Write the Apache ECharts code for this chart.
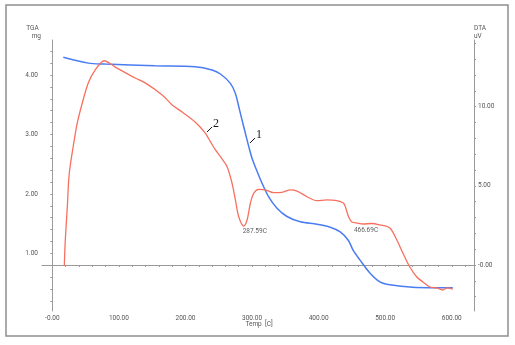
<!DOCTYPE html>
<html>
<head>
<meta charset="utf-8">
<script src="https://cdn.jsdelivr.net/npm/echarts@6/dist/echarts.min.js"></script>
<style>
  html, body { margin: 0; padding: 0; background: #fff; }
  #chart { width: 515px; height: 345px; }
</style>
</head>
<body>
<div id="chart"></div>
<script>
// TGA curve (mass, mg) against temperature (C)
const tgaTemp = [16.5, 54, 79.5, 154.5, 214.5, 240, 252.5, 267.5, 275, 280, 285, 290, 295, 300, 307.5, 315, 325, 337.5, 352.5, 372.5, 397.5, 417.5, 432.5, 444.5, 452, 462, 477, 492, 507, 541.5, 601.5];
const tgaMass = [4.30, 4.20, 4.185, 4.156, 4.14, 4.084, 4.017, 3.86, 3.69, 3.47, 3.24, 3.02, 2.80, 2.60, 2.38, 2.18, 1.95, 1.76, 1.62, 1.53, 1.49, 1.44, 1.36, 1.22, 1.05, 0.89, 0.67, 0.52, 0.47, 0.43, 0.42];

// DTA curve (signal, uV) against temperature (C)
const dtaTemp = [18, 19.5, 22.5, 25.5, 33, 37.5, 45, 54, 64.5, 78, 94.5, 124.5, 139.5, 165, 180, 195, 214.5, 229.5, 237, 244.5, 252.5, 262.5, 270, 275, 280, 287.59, 292.5, 297.5, 302.5, 310, 320, 332.5, 345, 357.5, 367.5, 382.5, 397.5, 412.5, 427.5, 437.5, 445, 450, 458, 466.69, 480, 492, 507, 517.5, 526.5, 537, 547.5, 556.5, 567, 577.5, 586.5, 593, 601.5];
const dtaSignal = [-0.06, 1.58, 3.66, 5.81, 7.9, 8.97, 10.23, 11.5, 12.32, 12.9, 12.5, 11.81, 11.5, 10.74, 10.11, 9.66, 9.03, 8.34, 7.82, 7.30, 6.84, 6.21, 5.16, 4.11, 3.05, 2.46, 2.84, 3.90, 4.53, 4.78, 4.74, 4.57, 4.59, 4.74, 4.67, 4.31, 4.06, 4.11, 4.06, 3.90, 3.05, 2.72, 2.65, 2.59, 2.62, 2.53, 2.34, 1.58, 0.76, -0.13, -0.76, -1.07, -1.39, -1.45, -1.58, -1.45, -1.52];

// Annotated DTA points
const peakTemps = [287.59, 466.69];
const peakSignals = [2.46, 2.59];

// Curve callouts: label, temperature, value on its own axis, y-axis index
const calloutText = ['1', '2'];
const calloutTemp = [294, 229.5];
const calloutValue = [2.84, 8.34];
const calloutAxis = [0, 1];

// Axis ticks and labels
const xLabelValues = [0, 100, 200, 300, 400, 500, 600];
const yLeftLabelValues = [1, 2, 3, 4];
const yRightLabelValues = [0, 5, 10];
const xTickValues = [];
for (let v = 0; v <= 620; v += 20) xTickValues.push(v);
const yLeftTickValues = [];
for (let v = 0.2; v <= 4.45; v += 0.2) yLeftTickValues.push(+v.toFixed(1));
const yRightTickValues = [];
for (let v = -2; v <= 14; v += 1) yRightTickValues.push(v);

const fmt = v => (Math.abs(v) < 1e-9 ? '-0.00' : v.toFixed(2));
const FONT = 'Roboto';
const LABEL_COLOR = '#555';
const AXIS_COLOR = '#9a9a9a';
const BLUE = '#4a7cf2';
const RED = '#f7705f';

const pair = (xs, ys) => xs.map((x, i) => [x, ys[i]]);

const chart = echarts.init(document.getElementById('chart'), null, { renderer: 'canvas' });

const axisCommon = {
  type: 'value',
  splitLine: { show: false },
  axisLine: { show: true, lineStyle: { color: AXIS_COLOR, width: 1 } },
  axisTick: { show: true, length: 2, lineStyle: { color: AXIS_COLOR } },
  axisLabel: { fontFamily: FONT, fontSize: 6.5, color: LABEL_COLOR, formatter: fmt }
};

chart.setOption({
  animation: false,
  backgroundColor: '#fff',
  grid: { left: 42, right: 41, top: 40, bottom: 34, containLabel: false },
  xAxis: Object.assign({}, axisCommon, {
    min: -15.5, max: 633.4,
    axisTick: Object.assign({}, axisCommon.axisTick, { customValues: xTickValues }),
    axisLabel: Object.assign({}, axisCommon.axisLabel, { customValues: xLabelValues, margin: 4 })
  }),
  yAxis: [
    Object.assign({}, axisCommon, {
      position: 'left', min: 0.03, max: 4.589,
      axisTick: Object.assign({}, axisCommon.axisTick, { customValues: yLeftTickValues }),
      axisLabel: Object.assign({}, axisCommon.axisLabel, { customValues: yLeftLabelValues, margin: 4 })
    }),
    Object.assign({}, axisCommon, {
      position: 'right', min: -2.906, max: 14.21,
      axisTick: Object.assign({}, axisCommon.axisTick, { customValues: yRightTickValues }),
      axisLabel: Object.assign({}, axisCommon.axisLabel, { customValues: yRightLabelValues, margin: 4 })
    })
  ],
  series: [
    {
      name: 'TGA', type: 'line', yAxisIndex: 0,
      data: pair(tgaTemp, tgaMass),
      showSymbol: false, smooth: 0.3,
      lineStyle: { color: BLUE, width: 1.5 }
    },
    {
      name: 'DTA', type: 'line', yAxisIndex: 1,
      data: pair(dtaTemp, dtaSignal),
      showSymbol: false, smooth: 0.3,
      lineStyle: { color: RED, width: 1.3 }
    },
    {
      name: 'Peaks', type: 'scatter', yAxisIndex: 1,
      symbolSize: 0, silent: true,
      data: peakTemps.map((t, i) => ({
        value: [t, peakSignals[i]],
        label: {
          show: true, position: 'bottom',
          offset: i === 0 ? [11, -3] : [3, -2],
          fontFamily: FONT, fontSize: 6.5, color: '#333',
          formatter: p => p.value[0].toFixed(2) + 'C'
        }
      }))
    }
  ]
});

// Frame, axis titles and curve callouts
const graphics = [
  { type: 'rect', shape: { x: 6, y: 5, width: 502, height: 331 },
    style: { fill: 'none', stroke: '#8f8f8f', lineWidth: 1.5 } },
  { type: 'text', x: 32.5, y: 28, style: { text: 'TGA', font: '6.5px ' + FONT, fill: LABEL_COLOR, align: 'center', verticalAlign: 'middle' } },
  { type: 'text', x: 41, y: 36.5, style: { text: 'mg', font: '6.5px ' + FONT, fill: LABEL_COLOR, align: 'right', verticalAlign: 'middle' } },
  { type: 'text', x: 474, y: 28, style: { text: 'DTA', font: '6.5px ' + FONT, fill: LABEL_COLOR, align: 'left', verticalAlign: 'middle' } },
  { type: 'text', x: 474, y: 36.5, style: { text: 'uV', font: '6.5px ' + FONT, fill: LABEL_COLOR, align: 'left', verticalAlign: 'middle' } },
  { type: 'text', x: 259, y: 324.5, style: { text: 'Temp  [C]', font: '6.5px ' + FONT, fill: LABEL_COLOR, align: 'center', verticalAlign: 'middle' } }
];

calloutText.forEach((txt, i) => {
  const p = chart.convertToPixel({ xAxisIndex: 0, yAxisIndex: calloutAxis[i] }, [calloutTemp[i], calloutValue[i]]);
  graphics.push({ type: 'line', shape: { x1: p[0] + 2, y1: p[1] - 1, x2: p[0] + 7, y2: p[1] - 6 },
    style: { stroke: '#111', lineWidth: 1 } });
  graphics.push({ type: 'text', x: p[0] + 8, y: p[1] - 9,
    style: { text: txt, font: '12px "Liberation Serif"', fill: '#1a1a1a', align: 'left', verticalAlign: 'middle' } });
});

chart.setOption({ graphic: graphics });
</script>
</body>
</html>
